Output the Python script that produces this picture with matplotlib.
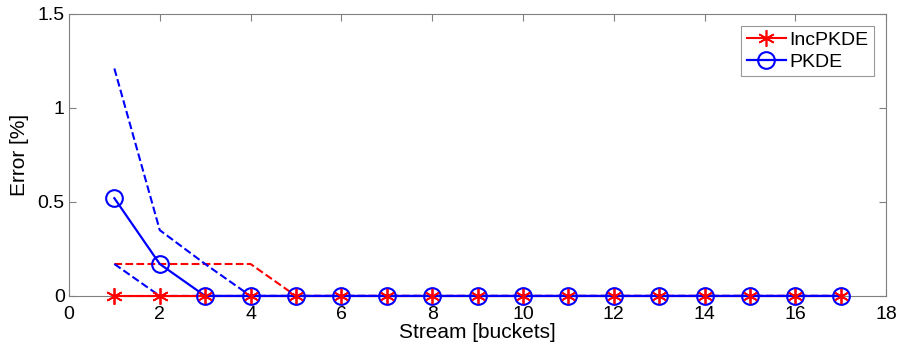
import matplotlib.pyplot as plt

plt.rcParams["font.family"] = ["Liberation Sans", "DejaVu Sans"]

buckets = list(range(1, 18))
inc_mean = [0.0] * 17
inc_upper = [0.17, 0.17, 0.17, 0.17] + [0.0] * 13
inc_lower = [0.0] * 17
pk_mean = [0.52, 0.17] + [0.0] * 15
pk_upper = [1.21, 0.35, 0.17] + [0.0] * 14
pk_lower = [0.17] + [0.0] * 16

fig = plt.figure(figsize=(8.98, 3.49), dpi=100)
ax = fig.add_axes([0.0768, 0.152, 0.91, 0.808])

star = (6, 2, 0)
ax.plot(buckets, inc_upper, "--", color="red", lw=1.5, zorder=2, clip_on=False)
ax.plot(buckets, inc_lower, "--", color="red", lw=1.5, zorder=2, clip_on=False)
ax.plot(buckets, inc_mean, "-", color="red", lw=1.5, marker=star, ms=12,
        mew=1.2, label="IncPKDE", zorder=3, clip_on=False)
ax.plot(buckets, pk_upper, "--", color="blue", lw=1.5, zorder=2, clip_on=False)
ax.plot(buckets, pk_lower, "--", color="blue", lw=1.5, zorder=2, clip_on=False)
ax.plot(buckets, pk_mean, "-", color="blue", lw=1.6, marker="o", ms=12,
        mfc="none", mew=1.5, label="PKDE", zorder=4, clip_on=False)
# stars drawn again so they sit inside the circles
ax.plot(buckets, inc_mean, linestyle="none", color="red", marker=star, ms=11,
        mew=1.0, zorder=5, clip_on=False)

ax.set_xlim(0, 18)
ax.set_ylim(0, 1.5)
ax.set_xticks(range(0, 19, 2))
ax.set_yticks([0, 0.5, 1, 1.5])
ax.set_yticklabels(["0", "0.5", "1", "1.5"])
ax.tick_params(direction="in", labelsize=14, length=5, top=True, right=True,
               color="#808080", pad=3)
ax.tick_params(axis="x", pad=7)
for s in ax.spines.values():
    s.set_color("#808080")
ax.set_xlabel("Stream [buckets]", fontsize=15, labelpad=0)
ax.set_ylabel("Error [%]", fontsize=15, labelpad=6)

leg = ax.legend(loc="upper right", fontsize=14, fancybox=False, handlelength=2.0,
                borderaxespad=0.6, handletextpad=0.2, borderpad=0.3, labelspacing=0.2)
leg.get_frame().set_edgecolor("#808080")
leg.get_frame().set_linewidth(0.8)
leg.set_zorder(10)

fig.savefig("out.png", dpi=100)
